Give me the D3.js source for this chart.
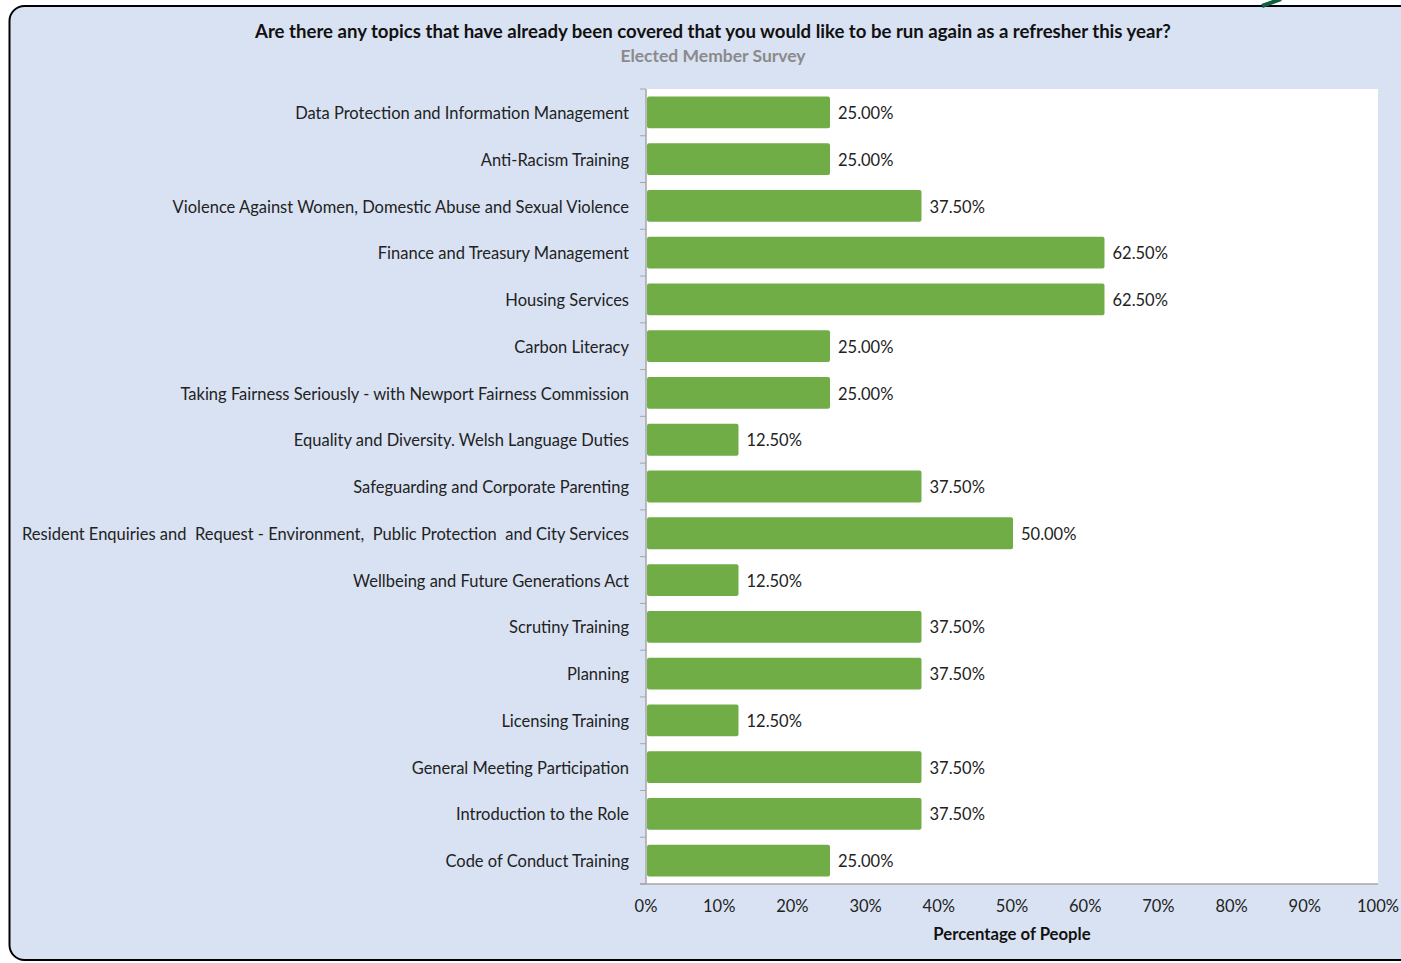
<!DOCTYPE html>
<html><head><meta charset="utf-8">
<script src="https://cdn.jsdelivr.net/npm/d3@7"></script>
<style>html,body{margin:0;padding:0;background:#fff;overflow:hidden}text{font-family:Lato,"Open Sans",sans-serif;white-space:pre}</style>
</head><body>
<svg id="c" width="1401" height="963"></svg>
<script>
const categories = [
  "Data Protection and Information Management",
  "Anti-Racism Training",
  "Violence Against Women, Domestic Abuse and Sexual Violence",
  "Finance and Treasury Management",
  "Housing Services",
  "Carbon Literacy",
  "Taking Fairness Seriously - with Newport Fairness Commission",
  "Equality and Diversity. Welsh Language Duties",
  "Safeguarding and Corporate Parenting",
  "Resident Enquiries and  Request - Environment,  Public Protection  and City Services",
  "Wellbeing and Future Generations Act",
  "Scrutiny Training",
  "Planning",
  "Licensing Training",
  "General Meeting Participation",
  "Introduction to the Role",
  "Code of Conduct Training"
];
const values = [25, 25, 37.5, 62.5, 62.5, 25, 25, 12.5, 37.5, 50, 12.5, 37.5, 37.5, 12.5, 37.5, 37.5, 25];
const xTicks = [0, 10, 20, 30, 40, 50, 60, 70, 80, 90, 100];
const title = "Are there any topics that have already been covered that you would like to be run again as a refresher this year?";
const subtitle = "Elected Member Survey";
const xTitle = "Percentage of People";

const svg = d3.select("#c");
// panel
svg.append("rect").attr("x",9.5).attr("y",6).attr("width",1430).attr("height",954).attr("rx",15)
  .attr("fill","#D9E2F3").attr("stroke","#000").attr("stroke-width",2);
svg.append("path").attr("d","M1262,6 L1281,-1").attr("stroke","#0E5F3F").attr("stroke-width",4).attr("fill","none");

const L = 646, R = 1378, T = 89, B = 884;
svg.append("rect").attr("x",L).attr("y",T).attr("width",R-L).attr("height",B-T).attr("fill","#fff");

const x = d3.scaleLinear().domain([0,100]).range([L,R]);
const y = d3.scaleBand().domain(categories).range([T,B]).paddingInner(0.32).paddingOuter(0.16);

svg.append("text").attr("x",713).attr("y",38).attr("text-anchor","middle")
  .attr("font-size",18.6).attr("font-weight","bold").attr("fill","#111").text(title);
svg.append("text").attr("x",713).attr("y",62).attr("text-anchor","middle")
  .attr("font-size",17.5).attr("font-weight","bold").attr("fill","#8a8a8a").text(subtitle);

// bars
svg.append("g").selectAll("rect").data(values).join("rect")
  .attr("x",x(0)+1).attr("y",(d,i)=>y(categories[i]))
  .attr("width",d=>x(d)-x(0)).attr("height",y.bandwidth())
  .attr("rx",2).attr("fill","#70AD47");
svg.append("g").selectAll("text").data(values).join("text")
  .attr("x",d=>x(d)+9).attr("y",(d,i)=>y(categories[i])+y.bandwidth()/2)
  .attr("dy","0.4em").attr("font-size",16.5).attr("fill","#222")
  .text(d=>d.toFixed(2)+"%");

// y axis
const step = (B-T)/categories.length;
const yg = svg.append("g");
yg.append("line").attr("x1",L).attr("x2",L).attr("y1",T).attr("y2",B).attr("stroke","#a6a6a6").attr("stroke-width",1.5);
yg.selectAll("line.t").data(d3.range(categories.length+1)).join("line").attr("class","t")
  .attr("x1",L-6).attr("x2",L).attr("y1",i=>T+i*step).attr("y2",i=>T+i*step)
  .attr("stroke","#a6a6a6").attr("stroke-width",1);
yg.selectAll("text").data(categories).join("text")
  .attr("x",629).attr("y",d=>y(d)+y.bandwidth()/2).attr("dy","0.4em")
  .attr("text-anchor","end").attr("font-size",16.5).attr("fill","#222").text(d=>d);

// x axis
const xg = svg.append("g");
xg.append("line").attr("x1",L-6).attr("x2",R).attr("y1",B).attr("y2",B).attr("stroke","#a6a6a6").attr("stroke-width",1.5);
xg.selectAll("text").data(xTicks).join("text")
  .attr("x",d=>x(d)).attr("y",912).attr("text-anchor","middle")
  .attr("font-size",16.5).attr("fill","#222").text(d=>d+"%");
svg.append("text").attr("x",(L+R)/2).attr("y",940).attr("text-anchor","middle")
  .attr("font-size",16.7).attr("font-weight","bold").attr("fill","#111").text(xTitle);
</script>
</body></html>
